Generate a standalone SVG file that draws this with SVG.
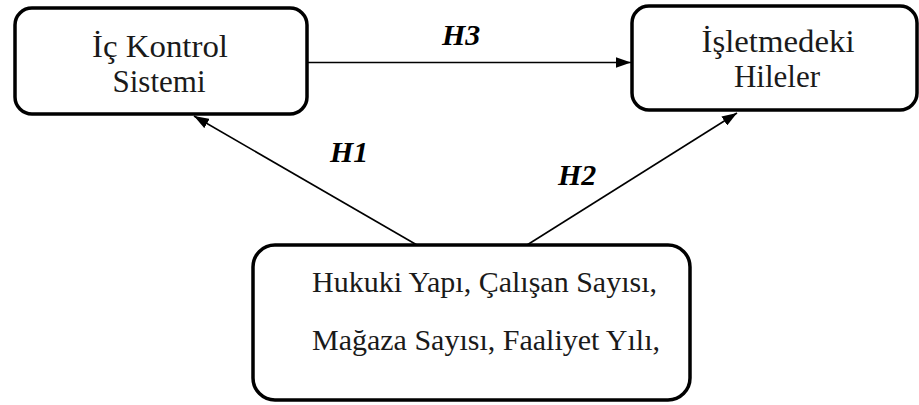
<svg xmlns="http://www.w3.org/2000/svg" width="919" height="405" viewBox="0 0 919 405">
<style>
.box{fill:#fff;stroke:#000;stroke-width:3.5}
text{font-family:'Liberation Serif','Times New Roman','DejaVu Serif',serif;fill:#1a1a1a}
.t{font-size:31px}
.t3{font-size:30px}
.h{font-size:30px;font-weight:bold;font-style:italic;fill:#000}
</style>
<defs>
<marker id="ah2" viewBox="0 0 14 10" refX="14" refY="5" markerWidth="15" markerHeight="11" markerUnits="userSpaceOnUse" orient="auto">
<path d="M0,0 L14,5 L0,10 z" fill="#000"/>
</marker>
</defs>
<rect width="919" height="405" fill="#fff"/>
<g id="connectors">
<line x1="307" y1="62.5" x2="631" y2="62.5" stroke="#000" stroke-width="1.6" marker-end="url(#ah2)"/>
<line x1="417" y1="245" x2="194" y2="116" stroke="#000" stroke-width="1.6" marker-end="url(#ah2)"/>
<line x1="527" y1="245" x2="737" y2="113" stroke="#000" stroke-width="1.6" marker-end="url(#ah2)"/>
</g>
<g id="node-ic-kontrol">
<rect class="box" x="15" y="8" width="292" height="106" rx="17"/>
<text class="t" x="160" y="57" text-anchor="middle" font-family="Liberation Serif, serif" textLength="136" lengthAdjust="spacingAndGlyphs">İç Kontrol</text>
<text class="t" x="159" y="92" text-anchor="middle" font-family="Liberation Serif, serif">Sistemi</text>
</g>
<g id="node-hileler">
<rect class="box" x="632" y="6" width="285" height="104" rx="17"/>
<text class="t" x="778" y="52" text-anchor="middle" font-family="Liberation Serif, serif" textLength="153" lengthAdjust="spacingAndGlyphs">İşletmedeki</text>
<text class="t" x="777" y="87" text-anchor="middle" font-family="Liberation Serif, serif">Hileler</text>
</g>
<g id="node-faktorler">
<rect class="box" x="253" y="245" width="437" height="155" rx="22"/>
<text class="t3" x="312" y="292" font-family="Liberation Serif, serif">Hukuki Yapı, Çalışan Sayısı,</text>
<text class="t3" x="312" y="350" font-family="Liberation Serif, serif">Mağaza Sayısı, Faaliyet Yılı,</text>
</g>
<g id="labels">
<text class="h" x="442" y="45" font-family="Liberation Serif, serif">H3</text>
<text class="h" x="330" y="162" font-family="Liberation Serif, serif">H1</text>
<text class="h" x="558" y="185" font-family="Liberation Serif, serif">H2</text>
</g>
</svg>
